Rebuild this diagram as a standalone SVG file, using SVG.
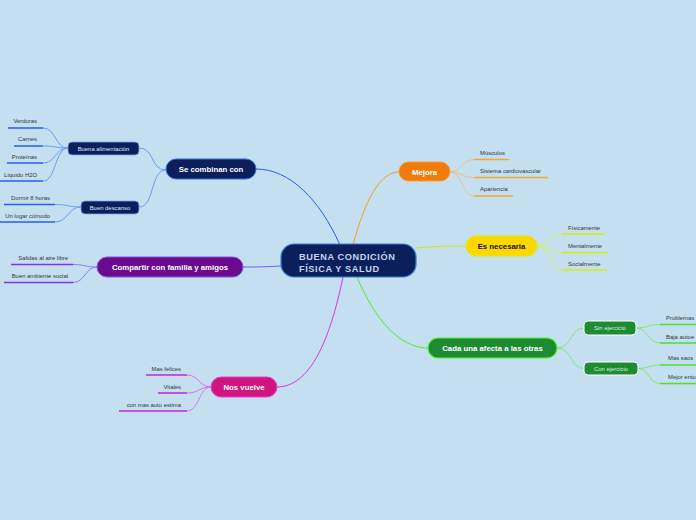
<svg xmlns="http://www.w3.org/2000/svg" width="696" height="520" viewBox="0 0 696 520">
<style>
.t{font-family:"Liberation Sans",Arial,sans-serif}
.leaf{font-family:"Liberation Sans",Arial,sans-serif;font-size:5.9px;fill:#333840}
.nt{font-family:"Liberation Sans",Arial,sans-serif;font-weight:bold;fill:#ffffff;font-size:7.8px;text-anchor:middle}
.st{font-family:"Liberation Sans",Arial,sans-serif;fill:#dfe8f5;font-size:5.9px;text-anchor:middle}
.c{fill:none;stroke-width:1}
.u{fill:none;stroke-width:1.6}
</style>
<rect width="696" height="520" fill="#c3dff0"/>
<g id="connectors">
<path class="c" d="M340,245 C320,200 290,169 256,169" stroke="#2a5ef0" stroke-width="1.3"/>
<path class="c" d="M353,245 C365,200 380,172 399,172" stroke="#f5a020" stroke-width="1.3"/>
<path class="c" d="M416,248 C440,246 450,246 466,246" stroke="#c8f000" stroke-width="1.3"/>
<path class="c" d="M357,277 C375,320 400,348 428,348" stroke="#50f030" stroke-width="1.3"/>
<path class="c" d="M343,277 C330,340 310,387 277,387" stroke="#e030f0" stroke-width="1.3"/>
<path class="c" d="M281,266 C265,267 255,267 243,267" stroke="#7a5cf0" stroke-width="1.3"/>
<path class="c" d="M166,170 C150,170 155,148 139,148" stroke="#6a9cf0"/>
<path class="c" d="M166,170 C150,170 155,207 139,207" stroke="#6a9cf0"/>
<path class="c" d="M68,148 C55,148 56,128 43,128" stroke="#6a9cf0"/>
<path class="c" d="M68,148 C55,148 56,146 43,146" stroke="#6a9cf0"/>
<path class="c" d="M68,148 C55,148 56,163 43,163" stroke="#6a9cf0"/>
<path class="c" d="M68,148 C55,148 56,181 43,181" stroke="#6a9cf0"/>
<path class="c" d="M81,207 C68,207 68,204.5 55,204.5" stroke="#6a9cf0"/>
<path class="c" d="M81,207 C68,207 68,222 55,222" stroke="#6a9cf0"/>
<path class="u" d="M43,128 H8 M43,146 H14 M43,163 H7 M43,181 H0 M55,204.5 H4 M55,222 H0" stroke="#2a60e8"/>
<path class="c" d="M450,172 C462,172 462,159.5 474,159.5" stroke="#f0c080"/>
<path class="c" d="M450,172 C462,172 462,177.5 474,177.5" stroke="#f0c080"/>
<path class="c" d="M450,172 C462,172 462,196 474,196" stroke="#f0c080"/>
<path class="u" d="M474,159.5 H509 M474,177.5 H548 M474,196 H513" stroke="#f5a833"/>
<path class="c" d="M537,246 C550,246 550,234 562,234" stroke="#d8f050"/>
<path class="c" d="M537,246 C550,246 550,252.5 562,252.5" stroke="#d8f050"/>
<path class="c" d="M537,246 C550,246 550,270 562,270" stroke="#d8f050"/>
<path class="u" d="M562,234 H605 M562,252.5 H608 M562,270 H607" stroke="#d4f000"/>
<path class="c" d="M557,348 C572,348 570,328 584,328" stroke="#80ea70"/>
<path class="c" d="M557,348 C572,348 570,368.5 584,368.5" stroke="#80ea70"/>
<path class="c" d="M636,328 C648,328 648,324.5 660,324.5" stroke="#80ea70"/>
<path class="c" d="M636,328 C648,328 648,343 660,343" stroke="#80ea70"/>
<path class="c" d="M638,368.5 C649,368.5 649,365 660,365" stroke="#80ea70"/>
<path class="c" d="M638,368.5 C649,368.5 649,383.5 660,383.5" stroke="#80ea70"/>
<path class="u" d="M660,324.5 H696 M660,343 H696 M660,365 H696 M660,383.5 H696" stroke="#50e030"/>
<path class="c" d="M97,267 C85,267 85,264.5 73,264.5" stroke="#9a7cf0"/>
<path class="c" d="M97,267 C85,267 85,282.5 73,282.5" stroke="#9a7cf0"/>
<path class="u" d="M73,264.5 H11 M73,282.5 H4" stroke="#8a30e8"/>
<path class="c" d="M211,387 C199,387 199,375 187,375" stroke="#e070f0"/>
<path class="c" d="M211,387 C199,387 199,393 187,393" stroke="#e070f0"/>
<path class="c" d="M211,387 C199,387 199,411 187,411" stroke="#e070f0"/>
<path class="u" d="M187,375 H146 M187,393 H158 M187,411 H119" stroke="#d020e0"/>
</g>
<g id="central">
<rect x="281" y="244" width="135" height="33" rx="13" fill="#0b1f5c" stroke="#3a80cc" stroke-width="1.2"/>
<text class="t" x="299" y="259.5" font-size="9.2" font-weight="bold" fill="#c5d4ea" letter-spacing="0.6">BUENA CONDICIÓN</text>
<text class="t" x="299" y="271.5" font-size="9.2" font-weight="bold" fill="#c5d4ea" letter-spacing="0.6">FÍSICA Y SALUD</text>
</g>
<g id="se-combinan">
<rect x="166" y="159" width="90" height="20" rx="10" fill="#0b1f5c" stroke="#3a6ee0" stroke-width="1"/>
<text class="nt" x="211" y="172">Se combinan con</text>
</g>
<g id="buena-alimentacion">
<rect x="68" y="142" width="71" height="13" rx="4" fill="#0b1f5c" stroke="#7aa8e8" stroke-width="0.8"/>
<text class="st" x="103.5" y="150.5">Buena alimentación</text>
</g>
<g id="buen-descanso">
<rect x="81" y="201" width="58" height="13" rx="4" fill="#0b1f5c" stroke="#7aa8e8" stroke-width="0.8"/>
<text class="st" x="110" y="209.5">Buen descanso</text>
</g>
<g id="leaves-se-combinan">
<text class="leaf" x="37" y="123" text-anchor="end">Verduras</text>
<text class="leaf" x="37" y="141" text-anchor="end">Carnes</text>
<text class="leaf" x="37" y="159" text-anchor="end">Proteínas</text>
<text class="leaf" x="37" y="177" text-anchor="end">Líquido H2O</text>
<text class="leaf" x="50" y="200" text-anchor="end">Dormir 8 horas</text>
<text class="leaf" x="50" y="218" text-anchor="end">Un lugar cómodo</text>
</g>
<g id="mejora">
<rect x="399" y="162" width="51" height="19" rx="9.5" fill="#f07c0c" stroke="#f5a040" stroke-width="1"/>
<text class="nt" x="424.5" y="174.5">Mejora</text>
<text class="leaf" x="480" y="155">Músculos</text>
<text class="leaf" x="480" y="173">Sistema cardiovascular</text>
<text class="leaf" x="480" y="191">Apariencia</text>
</g>
<g id="es-necesaria">
<rect x="466" y="236" width="71" height="20" rx="10" fill="#ffd700" stroke="#d8f000" stroke-width="1"/>
<text class="nt" x="501.5" y="249" style="fill:#111111">Es necesaria</text>
<text class="leaf" x="568" y="230">Físicamente</text>
<text class="leaf" x="568" y="248">Mentalmente</text>
<text class="leaf" x="568" y="266">Socialmente</text>
</g>
<g id="cada-una">
<rect x="428" y="338" width="129" height="20" rx="10" fill="#1e8a32" stroke="#50f030" stroke-width="1.2"/>
<text class="nt" x="492.5" y="351">Cada una afecta a las otras</text>
</g>
<g id="sin-ejercicio">
<rect x="584" y="321" width="52" height="14" rx="4" fill="#1e8a32" stroke="#ffffff" stroke-width="1"/>
<text class="st" x="610" y="330">Sin ejercicio</text>
<text class="leaf" x="666" y="320">Problemas</text>
<text class="leaf" x="666" y="338.5">Baja autoe</text>
</g>
<g id="con-ejercicio">
<rect x="584" y="362" width="54" height="13" rx="4" fill="#1e8a32" stroke="#ffffff" stroke-width="1"/>
<text class="st" x="611" y="370.5">Con ejercicio</text>
<text class="leaf" x="668" y="360">Mas saos</text>
<text class="leaf" x="668" y="379">Mejor ento</text>
</g>
<g id="compartir">
<rect x="97" y="257" width="146" height="20" rx="10" fill="#6a0a8e" stroke="#8a50e8" stroke-width="1"/>
<text class="nt" x="170" y="270">Compartir con familia y amigos</text>
<text class="leaf" x="68" y="260" text-anchor="end">Salidas al aire libre</text>
<text class="leaf" x="68" y="278" text-anchor="end">Buen ambiente social</text>
</g>
<g id="nos-vuelve">
<rect x="211" y="377" width="66" height="20" rx="10" fill="#d0157f" stroke="#e040e0" stroke-width="1"/>
<text class="nt" x="244" y="390">Nos vuelve</text>
<text class="leaf" x="181" y="371" text-anchor="end">Mas felices</text>
<text class="leaf" x="181" y="389" text-anchor="end">Vitales</text>
<text class="leaf" x="181" y="407" text-anchor="end">con mas auto estima</text>
</g>
</svg>
